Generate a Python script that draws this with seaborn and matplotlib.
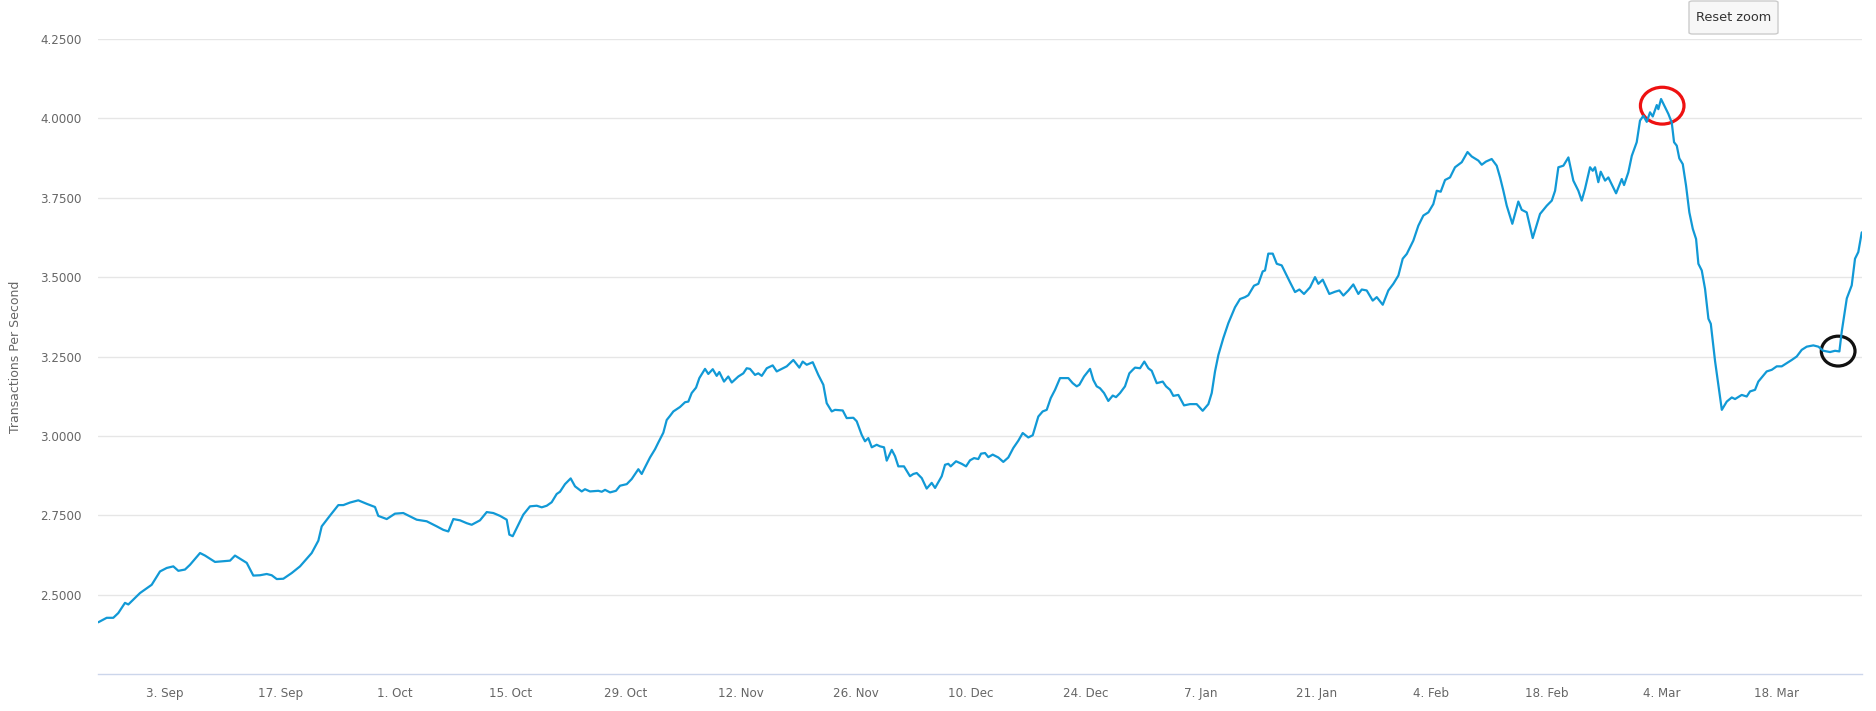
import numpy as np
import pandas as pd
import matplotlib
matplotlib.use("Agg")
import matplotlib.pyplot as plt
import matplotlib.dates as mdates
from matplotlib.patches import Ellipse, FancyBboxPatch
import seaborn as sns

# ---------------- data ----------------
START = "2018-09-03"          # first labelled tick
# day offsets from START
days = [
    -8.11, -7.09, -6.29, -5.68, -4.87, -4.46, -3.04, -1.62, -0.61, 0.21,
    1.01, 1.62, 2.43, 3.04, 4.26, 4.87, 6.08, 7.91, 8.51, 9.94,
    10.74, 11.55, 12.37, 12.98, 13.59, 14.39, 15.41, 16.42, 17.84, 18.65,
    19.06, 20.07, 21.08, 21.69, 22.50, 23.51, 24.53, 25.54, 25.94, 26.97,
    27.97, 28.98, 30.61, 31.83, 33.05, 33.85, 34.46, 35.07, 35.88, 36.70,
    37.30, 38.31, 39.13, 39.93, 40.75, 41.56, 41.88, 42.29, 42.78, 43.58,
    44.39, 45.21, 45.82, 46.43, 47.03, 47.64, 48.04, 48.65, 49.34, 49.87,
    50.68, 51.08, 51.69, 52.70, 53.12, 53.52, 54.13, 54.85, 55.34, 56.16,
    56.76, 57.57, 57.98, 58.38, 58.99, 59.60, 60.00, 60.61, 61.02, 61.42,
    61.83, 62.64, 63.25, 63.65, 64.06, 64.59, 64.99, 65.68, 66.08, 66.62,
    67.10, 67.42, 67.99, 68.51, 68.93, 69.73, 70.34, 70.75, 71.15, 71.76,
    72.16, 72.58, 73.19, 73.91, 74.40, 75.01, 75.62, 76.42, 77.15, 77.56,
    78.05, 78.78, 79.46, 80.07, 80.48, 81.09, 81.49, 82.43, 82.91, 83.72,
    84.13, 84.74, 85.14, 85.54, 85.96, 86.56, 86.97, 87.45, 87.78, 88.39,
    88.79, 89.19, 89.88, 90.61, 91.02, 91.43, 92.04, 92.64, 93.25, 93.66,
    94.47, 94.87, 95.27, 95.56, 96.21, 96.90, 97.43, 97.91, 98.40, 98.92,
    99.25, 99.74, 100.14, 100.67, 101.35, 101.96, 102.57, 103.18, 103.79, 104.32,
    105.00, 105.54, 106.22, 106.75, 107.24, 107.73, 108.25, 108.86, 109.87, 110.40,
    110.89, 111.21, 111.78, 112.51, 112.91, 113.32, 113.72, 114.21, 114.73, 115.27,
    115.67, 116.16, 116.76, 117.29, 117.70, 117.98, 118.59, 119.11, 119.60, 120.01,
    120.62, 121.35, 121.75, 122.24, 122.64, 123.25, 123.94, 124.67, 125.48, 126.21,
    126.90, 127.31, 127.71, 128.12, 128.72, 129.33, 130.14, 130.75, 131.36, 131.76,
    132.45, 132.98, 133.51, 133.79, 134.19, 134.73, 135.22, 135.82, 136.43, 136.83,
    137.44, 137.97, 138.53, 139.27, 139.87, 140.28, 140.81, 141.61, 142.31, 142.83,
    143.32, 143.93, 144.53, 145.14, 145.56, 146.16, 146.89, 147.38, 148.11, 148.79,
    149.40, 150.01, 150.54, 151.03, 151.83, 152.44, 153.05, 153.66, 154.26, 154.68,
    155.16, 155.69, 156.29, 156.90, 157.72, 158.42, 158.93, 159.74, 160.15, 160.67,
    161.36, 161.97, 162.38, 162.78, 163.19, 163.87, 164.60, 165.01, 165.62, 166.35,
    167.24, 168.06, 168.67, 169.07, 169.47, 170.08, 170.69, 171.29, 171.90, 172.31,
    172.71, 173.32, 173.65, 173.93, 174.33, 174.62, 175.15, 175.55, 176.49, 177.18,
    177.46, 177.98, 178.40, 179.00, 179.40, 179.81, 180.22, 180.62, 180.95, 181.44,
    181.63, 181.96, 182.45, 182.85, 183.26, 183.54, 183.87, 184.18, 184.60, 185.00,
    185.40, 185.82, 186.22, 186.50, 186.91, 187.31, 187.72, 188.01, 188.53, 189.35,
    189.95, 190.56, 190.96, 191.77, 192.38, 192.78, 193.39, 193.79, 194.40, 194.81,
    195.42, 196.03, 196.64, 197.24, 197.85, 198.46, 199.07, 199.68, 200.48, 201.09,
    201.70, 202.51, 203.12, 203.65, 203.94, 204.55, 205.15, 205.55, 205.95, 206.37,
]
tps = [
    2.413, 2.427, 2.427, 2.442, 2.474, 2.469, 2.505, 2.531, 2.573, 2.584,
    2.589, 2.575, 2.579, 2.594, 2.631, 2.623, 2.603, 2.607, 2.623, 2.600,
    2.560, 2.561, 2.565, 2.561, 2.549, 2.550, 2.568, 2.589, 2.631, 2.670,
    2.715, 2.749, 2.782, 2.782, 2.790, 2.797, 2.786, 2.776, 2.748, 2.738,
    2.755, 2.757, 2.736, 2.731, 2.715, 2.704, 2.699, 2.738, 2.734, 2.725,
    2.720, 2.734, 2.760, 2.757, 2.748, 2.736, 2.689, 2.684, 2.710, 2.752,
    2.778, 2.780, 2.775, 2.780, 2.791, 2.817, 2.824, 2.848, 2.866, 2.841,
    2.825, 2.832, 2.825, 2.827, 2.824, 2.830, 2.822, 2.827, 2.843, 2.848,
    2.864, 2.895, 2.880, 2.901, 2.932, 2.958, 2.979, 3.010, 3.050, 3.063,
    3.077, 3.091, 3.106, 3.108, 3.135, 3.152, 3.182, 3.211, 3.195, 3.210,
    3.189, 3.201, 3.171, 3.187, 3.168, 3.187, 3.197, 3.213, 3.211, 3.192,
    3.197, 3.189, 3.213, 3.222, 3.203, 3.211, 3.219, 3.239, 3.215, 3.234,
    3.224, 3.232, 3.192, 3.161, 3.103, 3.077, 3.082, 3.080, 3.056, 3.057,
    3.046, 3.003, 2.983, 2.993, 2.964, 2.972, 2.967, 2.964, 2.922, 2.956,
    2.936, 2.904, 2.904, 2.873, 2.880, 2.883, 2.867, 2.834, 2.852, 2.836,
    2.873, 2.909, 2.912, 2.904, 2.920, 2.912, 2.904, 2.923, 2.930, 2.927,
    2.944, 2.946, 2.933, 2.941, 2.932, 2.918, 2.932, 2.962, 2.985, 3.009,
    2.995, 3.002, 3.061, 3.077, 3.082, 3.119, 3.145, 3.182, 3.182, 3.166,
    3.156, 3.161, 3.187, 3.211, 3.176, 3.156, 3.150, 3.135, 3.110, 3.127,
    3.122, 3.135, 3.156, 3.197, 3.208, 3.215, 3.213, 3.234, 3.213, 3.205,
    3.166, 3.171, 3.156, 3.145, 3.126, 3.129, 3.096, 3.100, 3.100, 3.079,
    3.100, 3.135, 3.203, 3.255, 3.308, 3.355, 3.405, 3.431, 3.437, 3.443,
    3.473, 3.479, 3.518, 3.521, 3.574, 3.574, 3.542, 3.537, 3.505, 3.484,
    3.453, 3.461, 3.447, 3.468, 3.500, 3.479, 3.492, 3.447, 3.454, 3.458,
    3.442, 3.458, 3.477, 3.447, 3.461, 3.458, 3.426, 3.437, 3.413, 3.458,
    3.479, 3.505, 3.558, 3.573, 3.615, 3.662, 3.694, 3.704, 3.730, 3.772,
    3.769, 3.806, 3.814, 3.846, 3.862, 3.894, 3.880, 3.867, 3.854, 3.864,
    3.872, 3.851, 3.814, 3.772, 3.725, 3.668, 3.738, 3.712, 3.704, 3.623,
    3.699, 3.725, 3.741, 3.772, 3.846, 3.851, 3.877, 3.804, 3.772, 3.741,
    3.778, 3.846, 3.835, 3.846, 3.799, 3.832, 3.804, 3.814, 3.764, 3.809,
    3.790, 3.830, 3.882, 3.925, 3.993, 4.008, 3.989, 4.019, 4.006, 4.042,
    4.029, 4.061, 4.035, 4.014, 3.987, 3.925, 3.914, 3.874, 3.856, 3.788,
    3.704, 3.652, 3.620, 3.542, 3.521, 3.463, 3.369, 3.353, 3.235, 3.082,
    3.108, 3.121, 3.116, 3.129, 3.124, 3.140, 3.145, 3.171, 3.190, 3.203,
    3.208, 3.219, 3.219, 3.229, 3.239, 3.250, 3.271, 3.281, 3.285, 3.281,
    3.268, 3.264, 3.268, 3.266, 3.329, 3.433, 3.474, 3.558, 3.579, 3.641,
]
y_ticks = [2.5, 2.75, 3.0, 3.25, 3.5, 3.75, 4.0, 4.25]
x_tick_dates = ["2018-09-03", "2018-09-17", "2018-10-01", "2018-10-15",
                "2018-10-29", "2018-11-12", "2018-11-26", "2018-12-10",
                "2018-12-24", "2019-01-07", "2019-01-21", "2019-02-04",
                "2019-02-18", "2019-03-04", "2019-03-18"]
x_tick_labels = ["3. Sep", "17. Sep", "1. Oct", "15. Oct", "29. Oct",
                 "12. Nov", "26. Nov", "10. Dec", "24. Dec", "7. Jan",
                 "21. Jan", "4. Feb", "18. Feb", "4. Mar", "18. Mar"]
y_title = "Transactions Per Second"

# ---------------- figure ----------------
sns.set_style("white")
plt.rcParams["font.family"] = ["DejaVu Sans"]

W, H = 1876, 711
fig = plt.figure(figsize=(W / 100, H / 100), dpi=100)
left, right, top, bottom = 98, 1862, 39, 674
ax = fig.add_axes([left / W, 1 - bottom / H, (right - left) / W, (bottom - top) / H])

start = pd.Timestamp(START)
df = pd.DataFrame({"date": start + pd.to_timedelta(days, unit="D"), "tps": tps})
sns.lineplot(data=df, x="date", y="tps", ax=ax, color="#1199d6",
             linewidth=1.6, sort=False, estimator=None)

ax.set_xlim(start + pd.Timedelta(days=-8.15), start + pd.Timedelta(days=206.4))
ax.set_ylim(2.25, 4.25)

ax.set_yticks(y_ticks)
ax.set_yticklabels([f"{v:.4f}" for v in y_ticks])
ax.set_xticks(pd.to_datetime(x_tick_dates))
ax.set_xticklabels(x_tick_labels)

ax.grid(axis="y", color="#e6e6e6", linewidth=1.0)
ax.grid(axis="x", visible=False)
ax.set_axisbelow(True)
for s in ["left", "right", "top"]:
    ax.spines[s].set_visible(False)
ax.spines["bottom"].set_color("#ccd6eb")
ax.spines["bottom"].set_linewidth(1.0)

ax.tick_params(axis="y", length=0, pad=12, labelsize=8.6, labelcolor="#666666")
ax.tick_params(axis="x", length=7.2, width=0.8, color="#ccd6eb", pad=2.5,
               labelsize=8.6, labelcolor="#666666")

ax.set_xlabel("")
ax.set_ylabel(y_title, color="#666666", fontsize=9)
ax.yaxis.set_label_coords((22 - left) / (right - left), 0.5)

# hand-drawn highlight marks
red_c = mdates.date2num(start + pd.Timedelta(days=182.1))
ax.add_patch(Ellipse((red_c, 4.040), 5.3, 0.116, fill=False,
                     edgecolor="#ee1111", linewidth=2.3, clip_on=False))
blk_c = mdates.date2num(start + pd.Timedelta(days=203.5))
ax.add_patch(Ellipse((blk_c, 3.267), 4.1, 0.094, fill=False,
                     edgecolor="#111111", linewidth=2.3, clip_on=False))

# "Reset zoom" button
bx0, by0, bx1, by1 = 1689, 1, 1778, 34
fig.patches.append(FancyBboxPatch((bx0 / W, 1 - by1 / H), (bx1 - bx0) / W, (by1 - by0) / H,
                                  boxstyle="round,pad=0,rounding_size=0.002",
                                  transform=fig.transFigure, facecolor="#f7f7f7",
                                  edgecolor="#cccccc", linewidth=1.0))
fig.text((bx0 + bx1) / 2 / W, 1 - (by0 + by1) / 2 / H, "Reset zoom",
         ha="center", va="center", fontsize=9.3, color="#333333")

fig.savefig("out.png", dpi=100)
